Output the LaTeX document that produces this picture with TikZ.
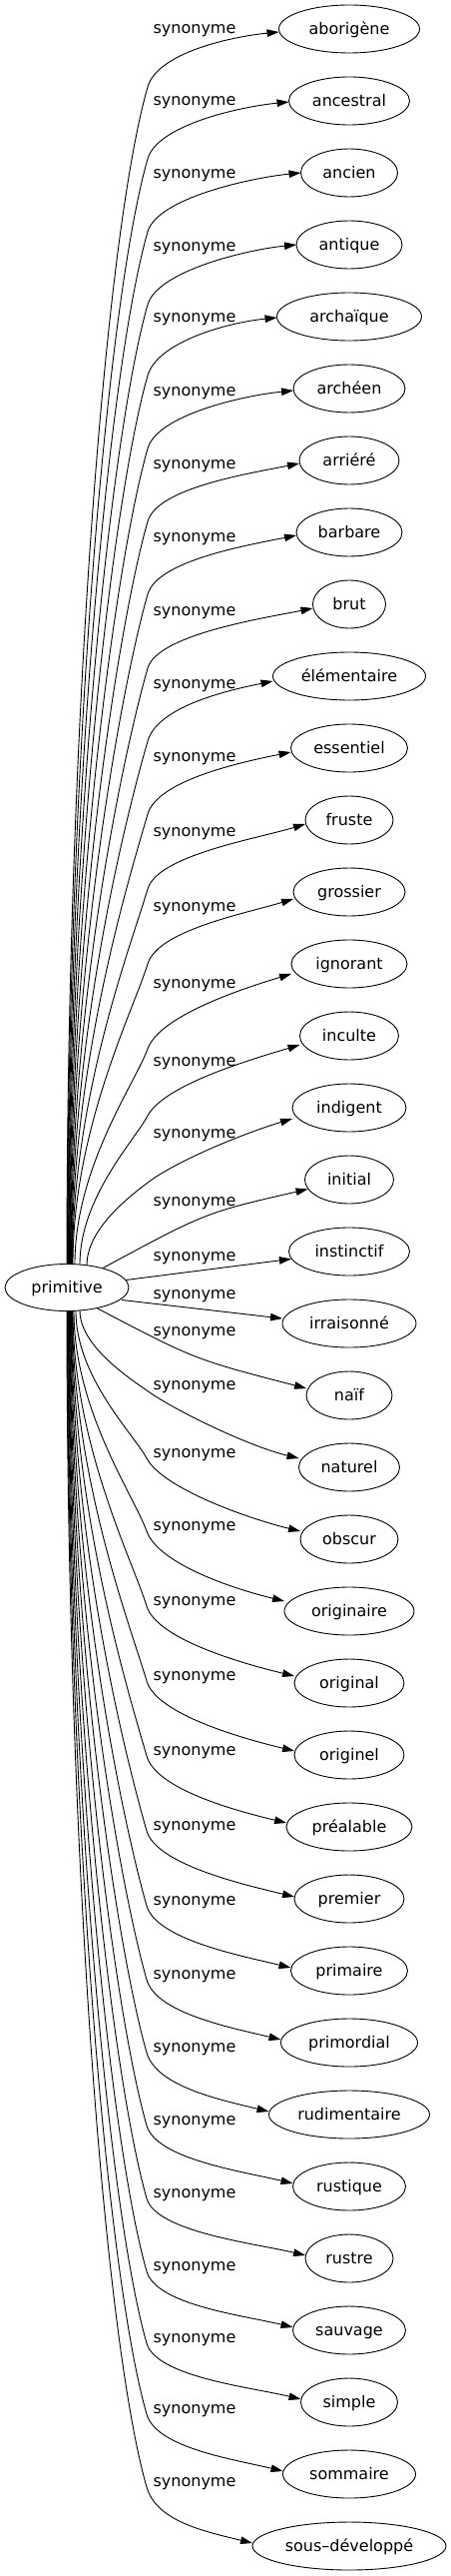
\documentclass[tikz,border=0pt]{standalone}
\usepackage{fontspec}
\setmainfont{DejaVu Sans}
\usetikzlibrary{arrows.meta,calc,shapes.geometric}
\begin{document}
\begin{tikzpicture}[x=1pt,y=-1pt,
  word/.style={draw, ellipse, line width=0.9pt, inner sep=0pt, minimum height=48pt,
    text height=12pt, text depth=1pt, font=\fontsize{16}{19}\selectfont},
  lab/.style={anchor=base, inner sep=0pt, font=\fontsize{16}{19}\selectfont},
  link/.style={line width=0.9pt, -{Triangle[length=12pt,width=7.5pt]}}
]
\useasboundingbox (0,0) rectangle (452,2579);
\node[word, minimum width=124pt, minimum height=47pt] (prim) at (67,1289) {primitive};
\foreach \i/\tx/\ww in {0/aborigène/141, 1/ancestral/121, 2/ancien/97, 3/antique/106,
  4/archaïque/145, 5/archéen/112, 6/arriéré/100, 7/barbare/106, 8/brut/73,
  9/élémentaire/153, 10/essentiel/117, 11/fruste/88, 12/grossier/112,
  13/ignorant/116, 14/inculte/99, 15/indigent/114, 16/initial/89, 17/instinctif/121,
  18/irraisonné/134, 19/naïf/86, 20/naturel/101, 21/obscur/98, 22/originaire/130,
  23/original/110, 24/originel/110, 25/préalable/126, 26/premier/110, 27/primaire/117,
  28/primordial/137, 29/rudimentaire/161, 30/rustique/113, 31/rustre/88,
  32/sauvage/113, 33/simple/97, 34/sommaire/133, 35/sous–développé/194}
  \node[word, minimum width=\ww pt] (n\i) at (350,{29+72*\i}) {\tx};
\foreach \i/\ly in {0/30, 1/102, 2/175, 3/248, 4/319, 5/392, 6/465, 7/538, 8/612,
  9/685, 10/758, 11/833, 12/908, 13/985, 14/1063, 15/1135, 16/1203, 17/1258,
  18/1296, 19/1333, 20/1387, 21/1455, 22/1528, 23/1603, 24/1678, 25/1753,
  26/1828, 27/1903, 28/1977, 29/2050, 30/2123, 31/2196, 32/2269, 33/2341,
  34/2412, 35/2485}
  \node[lab] (l\i) at (195,{\ly+4}) {synonyme};
% edges going up
\foreach \i/\sx/\By/\ee/\kk in {0/0/87/3/5, 1/0.5/159/1/5, 2/1/232/0/5, 3/1.5/305/0/5,
  4/2/376/1/5, 5/2.5/449/2/5, 6/3/522/3/10, 7/3.5/595/3/10, 8/4/669/4/10,
  9/4.5/742/5/10, 10/5/815/4/10, 11/5.5/890/4/15, 12/6/965/7/15,
  13/8/1050/10/15, 14/13/1117/9/15, 15/20/1184/11/15}{
  \pgfmathsetmacro\hy{23.5*sqrt(1-(\sx/62)^2)}
  \pgfmathsetmacro\dd{1289-\hy-\By}
  \pgfmathsetmacro\pp{max(20,74-39*exp(-min(9,(\dd-79)/60)))}
  \pgfmathsetmacro\rr{0.125*\dd+10}
  \draw[link] ($(prim.center)+(\sx,-\hy)$)
    .. controls ($(prim.center)+(\sx,{-\hy-0.45*\dd})$) and ({148-\rr*cos(\pp)},{\By+\rr*sin(\pp)}) .. (148,\By)
    .. controls ({148+35*cos(\pp)},{\By-35*sin(\pp)}) and ($(n\i.west)+(-49.5,{\ee+\kk})$) .. ($(n\i.west)+(0.5,\ee)$);
}
% nearly straight edges
\draw[link] (prim) .. controls (206,1214) .. (n16);
\draw[link] (prim) -- (n17);
\draw[link] ($(prim.center)+(55,12.5)$) -- ($(n18.west)+(0.5,-5)$);
\draw[link] ($(prim.center)+(30,{23.5*sqrt(1-(30/62)^2)})$) .. controls (195,1361) .. ($(n19.west)+(0.5,-7)$);
% edges going down
\foreach \i/\sx/\By/\ee in {20/13/1392/9, 21/9/1460/8, 22/7/1533/10, 23/6/1608/7,
  24/5.5/1683/4, 25/5/1758/4, 26/4.5/1833/2, 27/4/1908/3, 28/3.5/1982/3,
  29/3/2055/3, 30/2.5/2128/3, 31/2/2201/3, 32/1.5/2274/3, 33/1/2346/3,
  34/0.5/2417/3, 35/0/2490/3}{
  \pgfmathsetmacro\hy{23.5*sqrt(1-(\sx/62)^2)}
  \pgfmathsetmacro\dd{\By-1289-\hy}
  \pgfmathsetmacro\pp{max(20,74-39*exp(-min(9,(\dd-79)/60)))}
  \pgfmathsetmacro\rr{0.125*\dd+10}
  \draw[link] ($(prim.center)+(\sx,\hy)$)
    .. controls ($(prim.center)+(\sx,{\hy+0.45*\dd})$) and ({147-\rr*cos(\pp)},{\By-\rr*sin(\pp)}) .. (147,\By)
    .. controls ({147+35*cos(\pp)},{\By+35*sin(\pp)}) and ($(n\i.west)+(-49.5,{-\ee-12})$) .. ($(n\i.west)+(0.5,-\ee)$);
}
\end{tikzpicture}
\end{document}
